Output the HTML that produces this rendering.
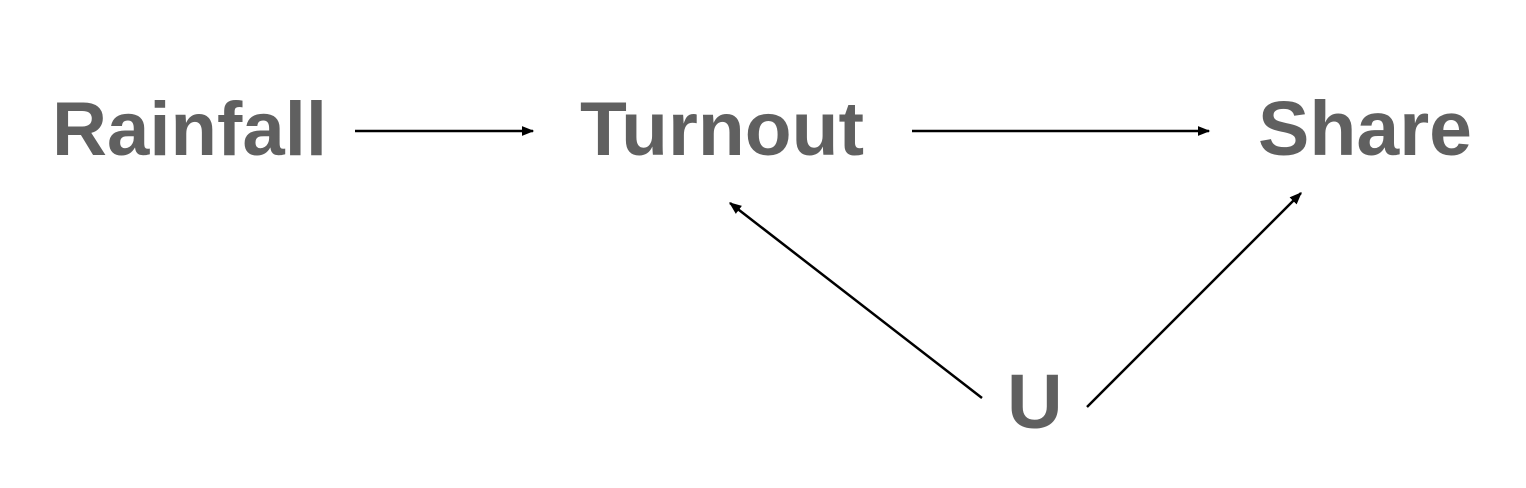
<!DOCTYPE html>
<html><head><meta charset="utf-8"><style>
html,body{margin:0;padding:0;background:#fff;}
svg{display:block;}
text{font-family:"Liberation Sans",Arial,sans-serif;font-weight:bold;fill:#606060;}
</style></head><body>
<svg width="1526" height="488" viewBox="0 0 1526 488">
<defs><marker id="ah" viewBox="0 0 10 10" refX="9" refY="5" markerWidth="5" markerHeight="5" orient="auto"><path d="M0,1 L10,5 L0,9 z" fill="#000"/></marker></defs>
<text x="52" y="155" font-size="76" textLength="275" lengthAdjust="spacingAndGlyphs">Rainfall</text>
<text x="580" y="155" font-size="76" textLength="284" lengthAdjust="spacingAndGlyphs">Turnout</text>
<text x="1258" y="155" font-size="77" textLength="214" lengthAdjust="spacingAndGlyphs">Share</text>
<text x="1007" y="428" font-size="77">U</text>
<g stroke="#000" stroke-width="2.5" marker-end="url(#ah)">
<line x1="355" y1="131" x2="533" y2="131"/>
<line x1="912" y1="131" x2="1209" y2="131"/>
<line x1="982" y1="398" x2="730" y2="203"/>
<line x1="1087" y1="407" x2="1301" y2="193"/>
</g>
</svg>
</body></html>
